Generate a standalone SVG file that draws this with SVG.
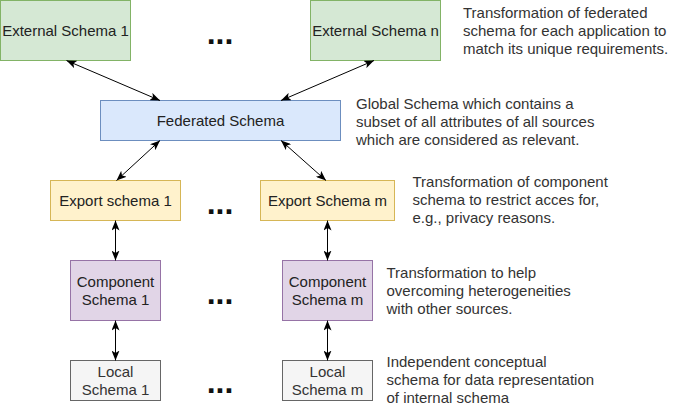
<svg xmlns="http://www.w3.org/2000/svg" width="681" height="411" viewBox="0 0 681 411">
<defs>
<style>
text{font-family:"Liberation Sans",Arial,sans-serif;font-size:15px;fill:#222}
.lbl{text-anchor:middle}
.desc{fill:#333}
.gray{fill:#333}
.dots{font-size:32px;font-weight:bold;text-anchor:middle;fill:#111}
.green{fill:#d5e8d4;stroke:#82b366}
.blue{fill:#dae8fc;stroke:#6c8ebf}
.yellow{fill:#fff2cc;stroke:#d6b656}
.purple{fill:#e1d5e7;stroke:#9673a6}
.grey{fill:#f5f5f5;stroke:#666666}
.conn line{stroke:#000;stroke-width:1;marker-start:url(#arr);marker-end:url(#arr)}
</style>
<marker id="arr" viewBox="0 0 10 8" refX="10" refY="4" markerWidth="10" markerHeight="8" markerUnits="userSpaceOnUse" orient="auto-start-reverse">
<path d="M0,0 L10,4 L0,8 L2.5,4 z" fill="#000"/>
</marker>
</defs>
<rect width="681" height="411" fill="#fff"/>

<g id="ext1"><rect class="green" x="0.5" y="0.5" width="130" height="60"/><text class="lbl" x="65.5" y="35.5">External Schema 1</text></g>
<g id="extn"><rect class="green" x="310.5" y="0.5" width="130" height="60"/><text class="lbl" x="375.5" y="35.5">External Schema n</text></g>
<g id="fed"><rect class="blue" x="100.5" y="100.5" width="240" height="40"/><text class="lbl" x="220.5" y="125.5">Federated Schema</text></g>
<g id="exp1"><rect class="yellow" x="50.5" y="180.5" width="130" height="40"/><text class="lbl" x="115.5" y="206">Export schema 1</text></g>
<g id="expm"><rect class="yellow" x="260.5" y="180.5" width="134" height="40"/><text class="lbl" x="327.5" y="206">Export Schema m</text></g>
<g id="comp1"><rect class="purple" x="70.5" y="260.5" width="90" height="60"/><text class="lbl" x="115.5" y="286.5">Component</text><text class="lbl" x="115.5" y="304.5">Schema 1</text></g>
<g id="compm"><rect class="purple" x="282.5" y="260.5" width="90" height="60"/><text class="lbl" x="327.5" y="286.5">Component</text><text class="lbl" x="327.5" y="304.5">Schema m</text></g>
<g id="loc1"><rect class="grey" x="70.5" y="360.5" width="90" height="40"/><text class="lbl gray" x="115.5" y="377">Local</text><text class="lbl gray" x="115.5" y="395">Schema 1</text></g>
<g id="locm"><rect class="grey" x="282.5" y="360.5" width="90" height="40"/><text class="lbl gray" x="327.5" y="377">Local</text><text class="lbl gray" x="327.5" y="395">Schema m</text></g>

<g id="dots">
<text class="dots" x="220" y="43.5">...</text>
<text class="dots" x="220" y="213.5">...</text>
<text class="dots" x="220" y="303.5">...</text>
<text class="dots" x="220" y="392.5">...</text>
</g>

<g id="connectors" class="conn">
<line x1="66.5" y1="60.5" x2="160" y2="100.5"/>
<line x1="374" y1="60.5" x2="281" y2="100.5"/>
<line x1="160" y1="140.5" x2="116.5" y2="180.5"/>
<line x1="281" y1="140.5" x2="326" y2="180.5"/>
<line x1="115.5" y1="220.5" x2="115.5" y2="260.5"/>
<line x1="327.5" y1="220.5" x2="327.5" y2="260.5"/>
<line x1="115.5" y1="320.5" x2="115.5" y2="360.5"/>
<line x1="327.5" y1="320.5" x2="327.5" y2="360.5"/>
</g>

<g id="notes">
<text class="desc" x="463" y="18">Transformation of federated</text>
<text class="desc" x="463" y="36">schema for each application to</text>
<text class="desc" x="463" y="54">match its unique requirements.</text>
<text class="desc" x="356" y="109">Global Schema which contains a</text>
<text class="desc" x="356" y="127">subset of all attributes of all sources</text>
<text class="desc" x="356" y="145">which are considered as relevant.</text>
<text class="desc" x="412.5" y="187">Transformation of component</text>
<text class="desc" x="412.5" y="205">schema to restrict acces for,</text>
<text class="desc" x="412.5" y="223">e.g., privacy reasons.</text>
<text class="desc" x="386.5" y="278">Transformation to help</text>
<text class="desc" x="386.5" y="296">overcoming heterogeneities</text>
<text class="desc" x="386.5" y="314">with other sources.</text>
<text class="desc" x="386.5" y="367">Independent conceptual</text>
<text class="desc" x="386.5" y="385">schema for data representation</text>
<text class="desc" x="386.5" y="403">of internal schema</text>
</g>
</svg>
